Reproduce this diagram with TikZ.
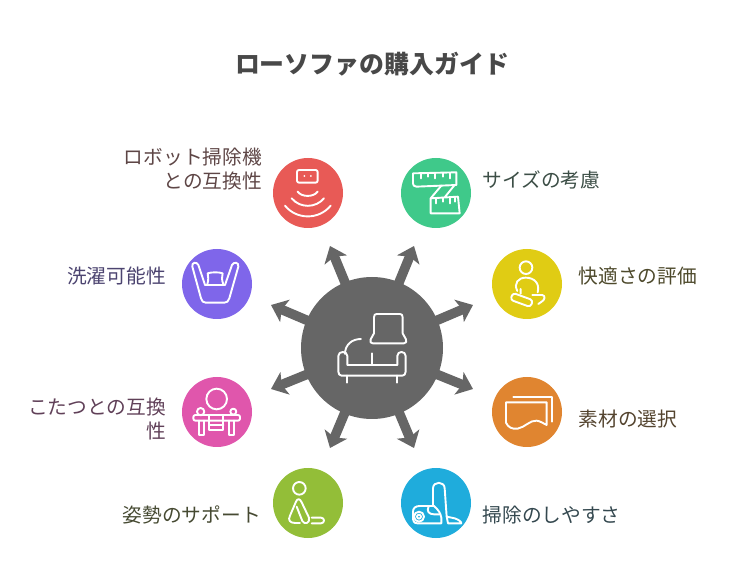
\documentclass[tikz,border=0pt]{standalone}
\usepackage{fontspec}
\setmainfont{Noto Sans CJK JP}
\usetikzlibrary{arrows.meta}
\definecolor{hubc}{HTML}{666666}
\definecolor{titlec}{HTML}{484848}
\definecolor{cred}{HTML}{E85A56}
\definecolor{cgreen}{HTML}{3FC98A}
\definecolor{cpurple}{HTML}{7F66EA}
\definecolor{cyellow}{HTML}{E0CC14}
\definecolor{cpink}{HTML}{E056AC}
\definecolor{corange}{HTML}{E08530}
\definecolor{clime}{HTML}{93BE38}
\definecolor{cblue}{HTML}{1FACDC}
\definecolor{tred}{HTML}{5E4646}
\definecolor{tgreen}{HTML}{3C4E46}
\definecolor{tpurple}{HTML}{4C4470}
\definecolor{tyellow}{HTML}{4E4A2C}
\definecolor{tpink}{HTML}{604058}
\definecolor{torange}{HTML}{54442F}
\definecolor{tlime}{HTML}{464A32}
\definecolor{tblue}{HTML}{34484F}
\tikzset{
  hubnode/.style={circle,fill=hubc,minimum size=142pt,inner sep=0pt},
  topic/.style={circle,minimum size=70pt,inner sep=0pt},
  spoke/.style={draw=hubc,line width=9.6pt,-{Stealth[length=15pt,width=24pt,inset=3.5pt]}},
  lab/.style={font=\fontsize{19.7pt}{24pt}\selectfont,inner sep=0pt},
  lableft/.style={lab,anchor=east,align=right},
  labright/.style={lab,anchor=west,align=left},
  icon/.style={draw=white,line width=1.9pt,line cap=round,line join=round},
}
\begin{document}
\begin{tikzpicture}[x=1pt,y=-1pt]
\useasboundingbox (0,0) rectangle (732,588);
\node[font=\fontsize{24.9pt}{28pt}\selectfont\bfseries,text=titlec,inner sep=0pt] (title) at (372,64) {ローソファの購入ガイド};
\node[hubnode] (hub) at (372,348) {};
\foreach \n/\x/\y in {a/330/246,b/414/246,c/473/305,d/473/389,e/414/448,f/330/448,g/271/389,h/271/305}{
  \coordinate (\n) at (\x,\y);
  \draw[spoke,shorten <=-3pt] (hub) -- (\n);
}
\node[topic,fill=cred] (n1) at (308,193) {};
\node[topic,fill=cgreen] (n2) at (436,193) {};
\node[topic,fill=cpurple] (n3) at (217,284) {};
\node[topic,fill=cyellow] (n4) at (527,284) {};
\node[topic,fill=cpink] (n5) at (217,412) {};
\node[topic,fill=corange] (n6) at (527,412) {};
\node[topic,fill=clime] (n7) at (308,503) {};
\node[topic,fill=cblue] (n8) at (436,503) {};
% labels
\node[lableft,text=tred] (l1) at (262,169) {ロボット掃除機\\との互換性};
\node[labright,text=tgreen] (l2) at (482.5,179.5) {サイズの考慮};
\node[lableft,text=tpurple] (l3) at (166,276) {洗濯可能性};
\node[labright,text=tyellow] (l4) at (578.5,276) {快適さの評価};
\node[lableft,text=tpink] (l5) at (166,419) {こたつとの互換\\性};
\node[labright,text=torange] (l6) at (578.5,419) {素材の選択};
\node[lableft,text=tlime] (l7) at (261,515) {姿勢のサポート};
\node[labright,text=tblue] (l8) at (482.5,515) {掃除のしやすさ};
% sofa icon
\begin{scope}[shift={(260,230)},x=0.3333pt,y=-0.3333pt,icon]
\draw (342,310) -- (342,262) .. controls (342,255) and (345,252) .. (350,252) -- (420,252) .. controls (425,252) and (428,255) .. (428,262) -- (428,310) -- (438,328) .. controls (441,335) and (438,340) .. (432,340) -- (338,340) .. controls (332,340) and (329,335) .. (332,328) -- cycle;
\draw (303,327) .. controls (275,327) and (255,345) .. (255,372);
\draw (262,405) -- (412,405) -- (412,378) .. controls (412,362) and (437,362) .. (437,378) -- (437,425) .. controls (437,432) and (433,437) .. (427,437) -- (245,437) .. controls (239,437) and (235,432) .. (235,425) -- (235,378) .. controls (235,362) and (262,362) .. (262,378) -- cycle;
\draw (337,370) -- (337,405);
\draw (262,437) -- (262,458);
\draw (410,437) -- (410,458);
\end{scope}
% red icon
\begin{scope}[shift={(170,150)},x=0.3333pt,y=-0.3333pt,icon]
\draw[rounded corners=2pt] (381,60) rectangle (443,98);
\fill[white] (403,78) circle (1pt) (423,78) circle (1pt);
\draw (383,125) .. controls (395,142) and (431,142) .. (443,125);
\draw (365,145) .. controls (390,175) and (437,175) .. (462,145);
\draw (345,167) .. controls (380,210) and (447,210) .. (482,167);
% purple icon
\draw (85,345) -- (105,405) -- (165,405) -- (186,345) .. controls (190,335) and (208,336) .. (205,350) -- (178,445) .. controls (176,454) and (170,458) .. (163,458) -- (107,458) .. controls (100,458) and (95,454) .. (93,445) -- (67,350) .. controls (64,336) and (81,335) .. (85,345) -- cycle;
\draw (112,403) .. controls (116,390) and (115,380) .. (113,370) .. controls (125,366) and (147,366) .. (158,370) .. controls (155,380) and (155,390) .. (160,403);
\end{scope}
% green icon
\begin{scope}[shift={(408,165)},x=0.3333pt,y=-0.3333pt,icon]
\draw (15,25) -- (145,22) -- (145,60) -- (25,65) .. controls (18,65) and (15,60) .. (15,55) -- cycle;
\draw (40,25) -- (40,40) (60,25) -- (60,35) (82,24) -- (82,40) (105,24) -- (105,35) (125,23) -- (125,40);
\draw (100,62) -- (68,100) -- (68,145) -- (155,145) -- (150,95) -- (68,100) (140,60) -- (110,97);
\draw (85,100) -- (85,115) (105,98) -- (105,110) (125,97) -- (125,115) (142,96) -- (142,110);
\end{scope}
% yellow icon
\begin{scope}[shift={(505,255)},x=0.3333pt,y=-0.3333pt,icon]
\draw (63,38) circle (19pt*0.3333);
\draw (37,108) .. controls (25,85) and (40,68) .. (62,68) .. controls (88,68) and (105,85) .. (98,112);
\draw[rotate around={-20:(50,135)},rounded corners=3pt] (18,124) rectangle (82,146);
\draw (47,102) -- (47,116) (82,120) -- (112,120) .. controls (122,122) and (120,135) .. (110,140) -- (100,147);
\end{scope}
% pink icon
\begin{scope}[shift={(170,370)},x=0.3333pt,y=-0.3333pt,icon]
\draw (140,87) circle (31pt*0.3333);
\draw[rounded corners=2pt] (70,135) rectangle (210,152);
\draw (87,152) -- (87,195) -- (102,195) -- (102,152);
\draw (178,152) -- (178,195) -- (193,195) -- (193,152);
\draw (92,125) circle (11pt*0.3333);
\draw (190,125) circle (9pt*0.3333);
\draw (118,137) -- (118,180) -- (160,180) -- (160,137) (118,165) -- (160,165);
\end{scope}
% lime icon
\begin{scope}[shift={(285,475)},x=0.3333pt,y=-0.3333pt,icon]
\draw (43,40) circle (19pt*0.3333);
\draw (35,95) -- (52,138) .. controls (58,150) and (76,145) .. (72,128) -- (50,82) .. controls (45,70) and (37,70) .. (33,80) -- (15,122) .. controls (8,135) and (15,144) .. (30,144) -- (45,144);
\draw (80,128) -- (108,128) .. controls (120,128) and (120,145) .. (108,145) -- (80,145);
\end{scope}
% orange icon
\begin{scope}[shift={(395,370)},x=0.3333pt,y=-0.3333pt,icon]
\draw (355,80) -- (470,80) -- (470,155);
\draw (455,165) -- (455,97) -- (333,97) -- (333,158) .. controls (340,172) and (350,178) .. (368,176) .. controls (390,172) and (405,150) .. (425,152) .. controls (435,153) and (445,160) .. (455,165);
\end{scope}
% blue icon
\begin{scope}[shift={(408,475)},x=0.3333pt,y=-0.3333pt,icon]
\draw (75,93) -- (75,40) .. controls (75,18) and (110,18) .. (110,40) -- (116,125) -- (140,130) .. controls (152,134) and (160,140) .. (160,145) -- (120,145) -- (116,125);
\draw (35,93) -- (78,93) .. controls (90,103) and (98,115) .. (100,128) -- (100,145) -- (28,145) .. controls (18,145) and (15,138) .. (15,128) -- (15,110) .. controls (15,100) and (22,93) .. (35,93) -- cycle;
\draw (33,125) circle (15pt*0.3333);
\draw (33,125) circle (6pt*0.3333);
\draw (62,94) .. controls (55,108) and (62,118) .. (78,118) -- (95,118);
\end{scope}
\end{tikzpicture}
\end{document}
